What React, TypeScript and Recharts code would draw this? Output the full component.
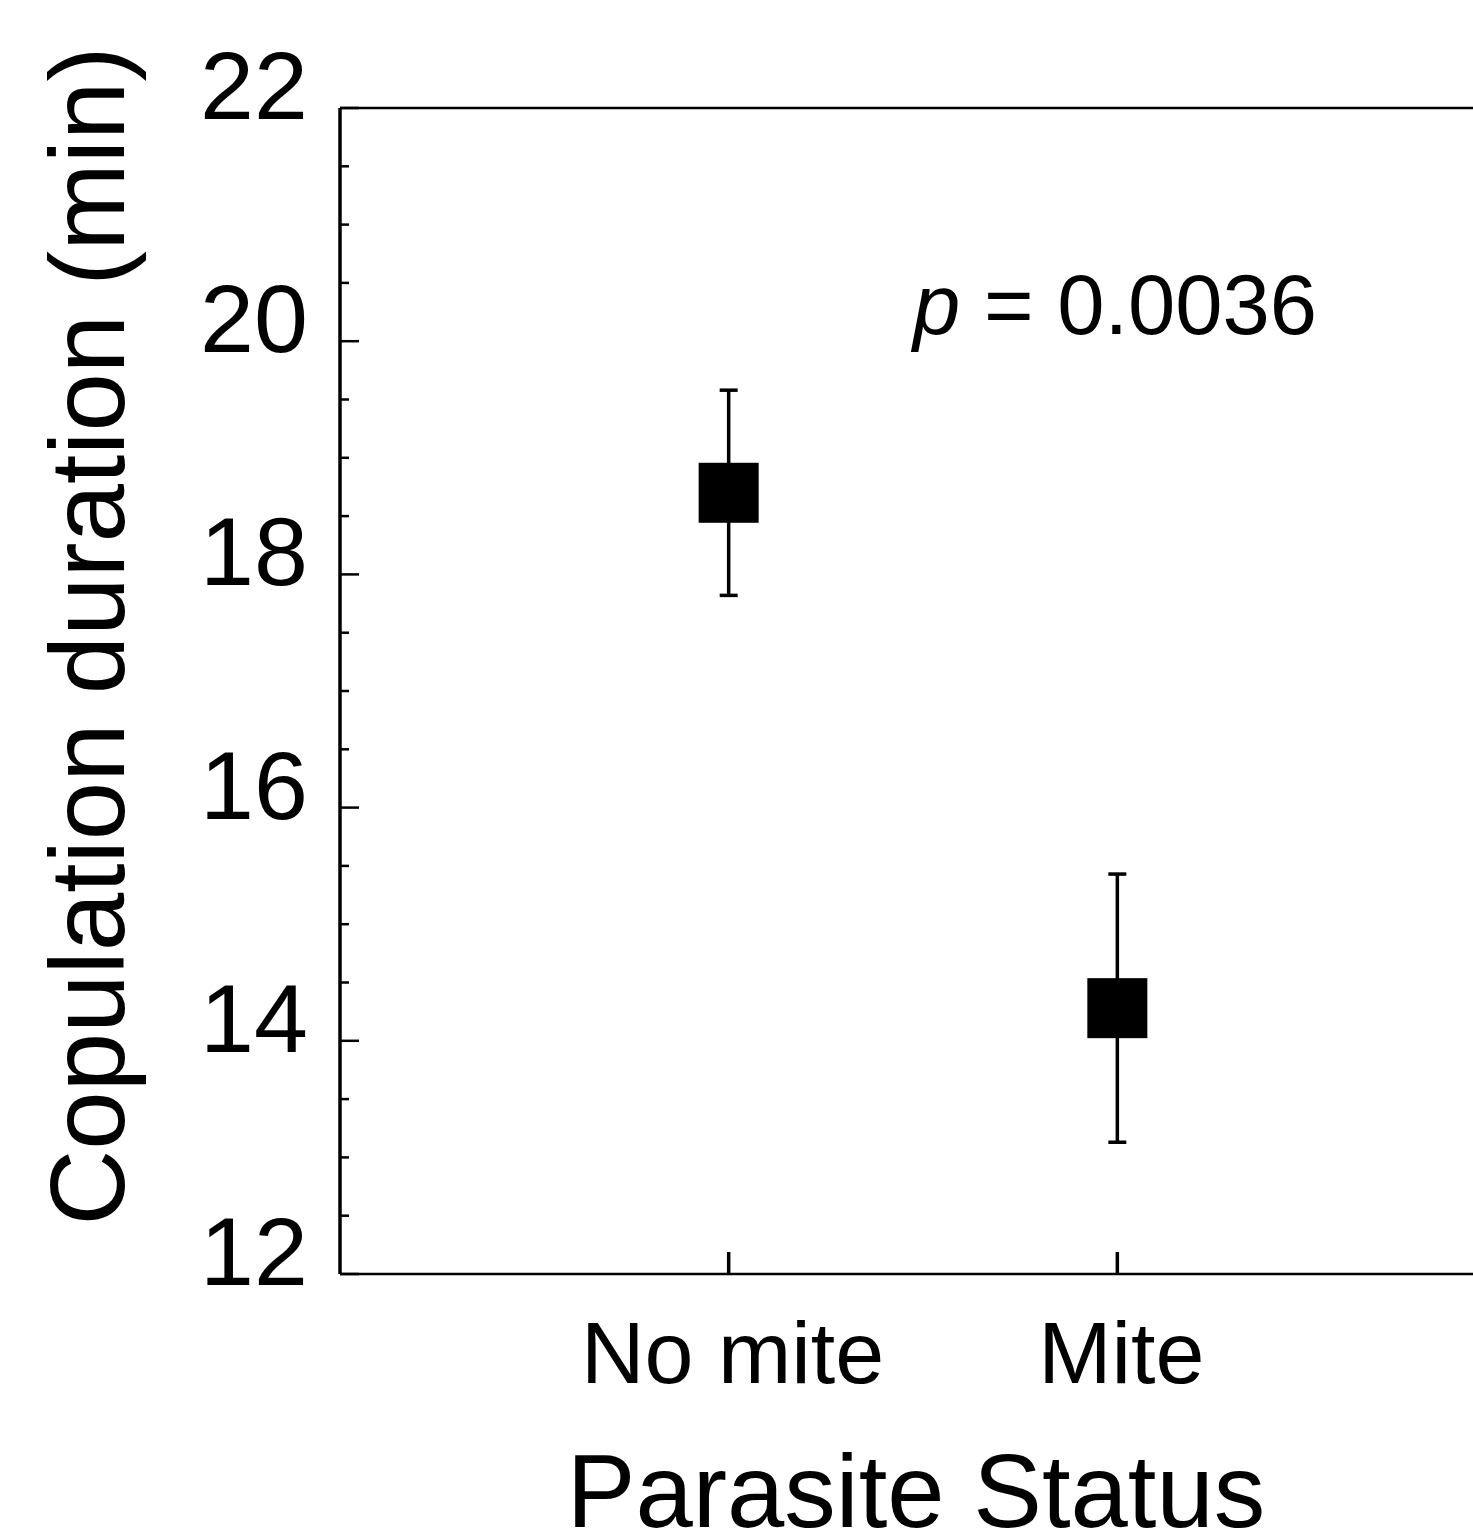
import { ScatterChart, Scatter, XAxis, YAxis, ErrorBar } from "recharts";

const categories = ["No mite", "Mite"];
const means = [18.7, 14.28];
const errors = [0.88, 1.15];
const yTicks = [12, 12.5, 13, 13.5, 14, 14.5, 15, 15.5, 16, 16.5, 17, 17.5, 18, 18.5, 19, 19.5, 20, 20.5, 21, 21.5, 22];
const yLabels = [12, 14, 16, 18, 20, 22];
const xPositions = [1, 2];
const pText = "0.0036";

const data = categories.map((name, i) => ({ name, x: xPositions[i], y: means[i], err: errors[i] }));

const FONT = "'Liberation Sans', Arial, sans-serif";

const LeftTick = (props: any) => {
  const { x, y, payload } = props;
  const major = yLabels.includes(payload.value);
  return (
    <g>
      <line x1={x} x2={x + (major ? 19 : 9)} y1={y} y2={y} stroke="#000" strokeWidth={2.5} />
      {major && (
        <text x={x - 32} y={y + 11} textAnchor="end" fontSize={97} fontFamily={FONT} fill="#000">
          {payload.value}
        </text>
      )}
    </g>
  );
};

const BottomTick = (props: any) => {
  const { x, y, payload } = props;
  return (
    <g>
      <line x1={x} x2={x} y1={y} y2={y - 22} stroke="#000" strokeWidth={3.5} />
      <text x={x + 4} y={y + 109} textAnchor="middle" fontSize={88} fontFamily={FONT} fill="#000">
        {categories[payload.value - 1]}
      </text>
    </g>
  );
};

const TopTick = (props: any) => {
  const { x, y } = props;
  return <line x1={x} x2={x} y1={y} y2={y + 22} stroke="#000" strokeWidth={3.5} />;
};

const Square = (props: any) => {
  const { cx, cy } = props;
  return <rect x={cx - 30} y={cy - 30} width={60} height={60} fill="#000" />;
};

export default function App() {
  return (
    <div
      style={{
        position: "fixed",
        left: 0,
        top: 0,
        width: 1473,
        height: 1532,
        overflow: "hidden",
        background: "#fff",
      }}
    >
      <ScatterChart width={1516} height={1532} margin={{ top: 0, right: 10, bottom: 0, left: 0 }}>
        <XAxis
          xAxisId="top"
          orientation="top"
          type="number"
          dataKey="x"
          domain={[0, 3]}
          ticks={xPositions}
          height={108}
          axisLine={{ stroke: "#000", strokeWidth: 2.5 }}
          tickLine={false}
          tickSize={0}
          tickMargin={0}
          tick={TopTick}
        />
        <XAxis
          xAxisId="bottom"
          type="number"
          dataKey="x"
          domain={[0, 3]}
          ticks={xPositions}
          height={258}
          axisLine={{ stroke: "#000", strokeWidth: 2.5 }}
          tickLine={false}
          tickSize={0}
          tickMargin={0}
          tick={BottomTick}
        />
        <YAxis
          type="number"
          dataKey="y"
          domain={[12, 22]}
          ticks={yTicks}
          interval={0}
          width={340}
          axisLine={{ stroke: "#000", strokeWidth: 3.5 }}
          tickLine={false}
          tickSize={0}
          tickMargin={0}
          tick={LeftTick}
        />
        <Scatter data={data} xAxisId="bottom" shape={Square} isAnimationActive={false}>
          <ErrorBar dataKey="err" direction="y" width={9} strokeWidth={3.5} stroke="#000" isAnimationActive={false} />
        </Scatter>
      </ScatterChart>
      <svg
        width={1473}
        height={1532}
        style={{ position: "absolute", left: 0, top: 0, pointerEvents: "none" }}
      >
        <text
          transform="translate(124,636) rotate(-90)"
          textAnchor="middle"
          fontSize={105}
          fontFamily={FONT}
          fill="#000"
        >
          Copulation duration (min)
        </text>
        <text x={916} y={1527} textAnchor="middle" fontSize={103} fontFamily={FONT} fill="#000">
          Parasite Status
        </text>
        <text x={913} y={334} fontSize={85} fontFamily={FONT} fill="#000">
          <tspan fontStyle="italic">p</tspan> = {pText}
        </text>
      </svg>
    </div>
  );
}
